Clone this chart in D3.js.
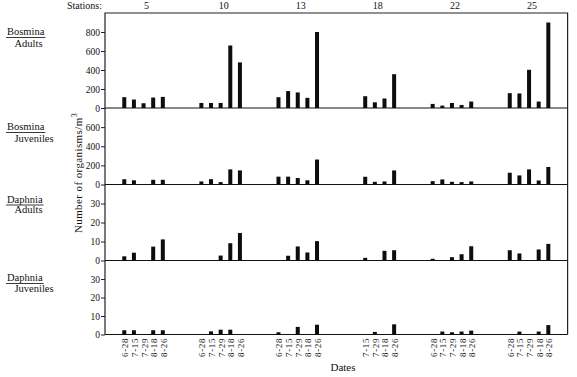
<!DOCTYPE html>
<html>
<head>
<meta charset="utf-8">
<script src="https://cdn.jsdelivr.net/npm/d3@7"></script>
<style>
  body { margin: 0; background: #fff; }
  svg { display: block; font-family: "Liberation Serif", "DejaVu Serif", serif; }
  text { fill: #111; }
</style>
</head>
<body>
<svg id="chart" width="577" height="377"></svg>
<script>
// data
var stations = ["5", "10", "13", "18", "22", "25"];
var dates = ["6-28", "7-15", "7-29", "8-18", "8-26"];
// station 18 was not sampled on 6-28
var sampled = [[1,1,1,1,1],[1,1,1,1,1],[1,1,1,1,1],[0,1,1,1,1],[1,1,1,1,1],[1,1,1,1,1]];

var bosminaAdults = [[114,89,50,110,117],[53,53,53,658,480],[114,178,164,107,800],[null,124,60,100,356],[43,25,53,32,68],[156,153,402,68,900]];
var bosminaJuveniles = [[55,44,null,49,49],[32,56,25,158,147],[82,82,68,44,261],[null,81,28,32,147],[35,53,28,25,32],[123,95,158,42,183]];
var daphniaAdults = [[2.2,4.1,null,7.3,11.1],[null,null,2.6,9.1,14.5],[null,2.5,7.4,4.2,10.2],[null,1.4,null,5.1,5.4],[0.9,null,1.75,3.3,7.5],[5.4,3.7,null,5.8,8.75]];
var daphniaJuveniles = [[2.3,2.3,null,2.3,2.3],[null,1.7,2.6,2.6,null],[1.2,null,4.1,null,5.3],[null,null,1.4,null,5.5],[null,1.6,1.2,1.6,2.1],[null,1.6,null,1.6,5.1]];

var panelNames = ["Bosmina", "Bosmina", "Daphnia", "Daphnia"];
var panelStages = ["Adults", "Juveniles", "Adults", "Juveniles"];
var panelMax = [1000, 800, 40, 40];
var panelTicks = [[0,200,400,600,800],[0,200,400,600],[0,10,20,30],[0,10,20,30]];
var panelSeries = [bosminaAdults, bosminaJuveniles, daphniaAdults, daphniaJuveniles];

// layout
var left = 105, right = 567.6;
var bounds = [13, 108, 184.5, 260.5, 334.5];
var labelDy = [[22, 34], [22, 34], [18, 28], [20.5, 31.5]];

var svg = d3.select("#chart");

var xStation = d3.scaleBand().domain(stations).range([left, right]);
var xDate = d3.scalePoint().domain(dates).range([0, xStation.bandwidth()]).padding(2);
function bx(si, di) { return xStation(stations[si]) + xDate(dates[di]); }

var barW = 4;

panelSeries.forEach(function(series, p) {
  var y = d3.scaleLinear().domain([0, panelMax[p]]).range([bounds[p + 1], bounds[p]]);

  var axis = d3.axisLeft(y).tickValues(panelTicks[p]).tickSize(4).tickSizeOuter(0).tickPadding(1);
  var g = svg.append("g").attr("transform", "translate(" + left + ",0)").call(axis);
  g.select(".domain").remove();
  g.selectAll(".tick line").attr("stroke", "#222");
  g.selectAll(".tick text").attr("font-size", 9.5).attr("fill", "#111")
    .attr("font-family", "'Liberation Serif', serif");

  // zero line / panel separator
  svg.append("line")
    .attr("x1", left).attr("x2", right)
    .attr("y1", y(0)).attr("y2", y(0))
    .attr("stroke", "#111").attr("stroke-width", 1.2);

  var bars = [];
  series.forEach(function(row, si) {
    row.forEach(function(v, di) {
      if (v != null) bars.push({ si: si, di: di, v: v });
    });
  });
  svg.append("g").selectAll("rect").data(bars).join("rect")
    .attr("x", function(d) { return bx(d.si, d.di) - barW / 2; })
    .attr("width", barW)
    .attr("y", function(d) { return y(d.v); })
    .attr("height", function(d) { return y(0) - y(d.v); })
    .attr("fill", "#0d0d0d");

  // panel titles
  var t = svg.append("text")
    .attr("x", 7).attr("y", bounds[p] + labelDy[p][0])
    .attr("font-size", 10.5).text(panelNames[p]);
  var w = t.node().getComputedTextLength();
  svg.append("line")
    .attr("x1", 6).attr("x2", 8 + w)
    .attr("y1", bounds[p] + labelDy[p][0] + 2.5).attr("y2", bounds[p] + labelDy[p][0] + 2.5)
    .attr("stroke", "#222").attr("stroke-width", 0.9);
  svg.append("text")
    .attr("x", 14.5).attr("y", bounds[p] + labelDy[p][1])
    .attr("font-size", 10.5).text(panelStages[p]);
});

// frame
svg.append("path")
  .attr("d", "M" + left + "," + bounds[4] + "V" + bounds[0] + "H" + right + "V" + bounds[4])
  .attr("fill", "none").attr("stroke", "#222").attr("stroke-width", 1.2);

// station labels
svg.append("text").attr("x", 102).attr("y", 9).attr("text-anchor", "end")
  .attr("font-size", 10).text("Stations:");
svg.append("g").selectAll("text").data(stations).join("text")
  .attr("x", function(d) { return xStation(d) + xStation.bandwidth() / 2 + 3; })
  .attr("y", 9).attr("text-anchor", "middle").attr("font-size", 10)
  .text(function(d) { return d; });

// date labels
var dateLabels = [];
stations.forEach(function(s, si) {
  dates.forEach(function(d, di) {
    if (sampled[si][di]) dateLabels.push({ si: si, di: di, t: d });
  });
});
svg.append("g").selectAll("text").data(dateLabels).join("text")
  .attr("transform", function(d) {
    return "translate(" + (bx(d.si, d.di) + 1) + ",338) rotate(-90)";
  })
  .attr("text-anchor", "end").attr("dominant-baseline", "central")
  .attr("font-size", 9).attr("letter-spacing", 0.6)
  .text(function(d) { return d.t; });

svg.append("text").attr("x", 343).attr("y", 371).attr("text-anchor", "middle")
  .attr("font-size", 11).text("Dates");

// y title
var yt = svg.append("text")
  .attr("transform", "translate(82,173) rotate(-90)")
  .attr("text-anchor", "middle").attr("font-size", 11).attr("letter-spacing", 0.4);
yt.append("tspan").text("Number of  organisms/m");
yt.append("tspan").attr("font-size", 8).attr("dy", -5).text("3");
</script>
</body>
</html>
